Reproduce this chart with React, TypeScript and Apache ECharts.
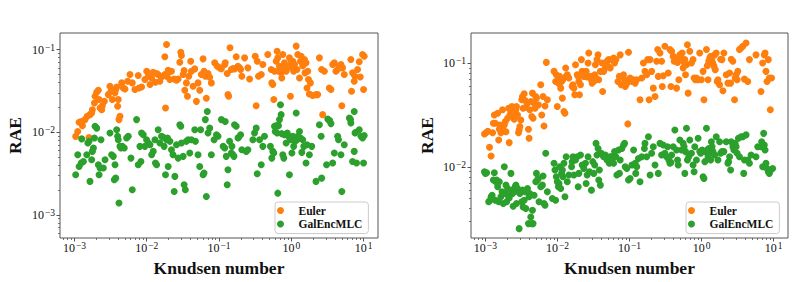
import React, { useEffect, useRef } from "react";
import * as echarts from "echarts";

// ---------- data ----------
const leftEulerKn = [
  0.00104, 0.00111, 0.00116, 0.00124, 0.00129, 0.0014, 0.0015, 0.00159, 0.00164, 0.00173,
  0.00177, 0.00189, 0.00193, 0.00203, 0.00214, 0.00219, 0.00226, 0.00238, 0.00243, 0.00259,
  0.00294, 0.0031, 0.0032, 0.00334, 0.00364, 0.00372, 0.00384, 0.00404, 0.00396, 0.00413,
  0.00426, 0.0045, 0.00474, 0.005, 0.00544, 0.00586, 0.00631, 0.00687, 0.00763, 0.0078,
  0.00849, 0.00943, 0.01, 0.0105, 0.0111, 0.0117, 0.0123, 0.0132, 0.0137, 0.0144,
  0.0152, 0.016, 0.0178, 0.0188, 0.0198, 0.0178, 0.0182, 0.0188, 0.0198, 0.0209,
  0.022, 0.024, 0.0258, 0.0272, 0.0287, 0.0296, 0.0302, 0.0319, 0.0329, 0.0336,
  0.0354, 0.0366, 0.0382, 0.0406, 0.0415, 0.0438, 0.0462, 0.0487, 0.0513, 0.0541,
  0.057, 0.0602, 0.0621, 0.0634, 0.0647, 0.0668, 0.0705, 0.0743, 0.0784, 0.0872,
  0.0948, 0.102, 0.108, 0.12, 0.122, 0.13, 0.133, 0.136, 0.142, 0.148,
  0.156, 0.164, 0.173, 0.183, 0.193, 0.199, 0.207, 0.226, 0.251, 0.265,
  0.317, 0.327, 0.338, 0.352, 0.384, 0.404, 0.474, 0.527, 0.538, 0.555,
  0.573, 0.586, 0.618, 0.637, 0.651, 0.665, 0.687, 0.724, 0.739, 0.763,
  0.788, 0.805, 0.849, 0.913, 0.943, 0.974, 1.0, 1.02, 1.05, 1.08,
  1.11, 1.17, 1.2, 1.23, 1.3, 1.34, 1.37, 1.44, 1.52, 1.55,
  1.6, 1.69, 1.65, 1.73, 1.84, 1.78, 1.98, 2.2, 2.32, 2.45,
  2.63, 2.72, 2.87, 3.36, 3.54, 3.74, 3.94, 4.15, 4.38, 4.62,
  4.87, 5.13, 5.0, 5.41, 6.68, 6.82, 7.05, 7.43, 7.62, 8.26,
  8.72, 9.0, 9.69, 10.0, 10.2,
];
const leftEulerRae = [
  0.0089, 0.0102, 0.0132, 0.0135, 0.012, 0.0142, 0.0156, 0.0086, 0.0163, 0.0171,
  0.0187, 0.0226, 0.0272, 0.0304, 0.0321, 0.0248, 0.0196, 0.0187, 0.0209, 0.0236,
  0.0285, 0.0359, 0.0313, 0.0248, 0.0299, 0.0328, 0.0353, 0.0248, 0.0206, 0.0142,
  0.0156, 0.0395, 0.0343, 0.0333, 0.0413, 0.0498, 0.0395, 0.0328, 0.0484, 0.0343,
  0.0353, 0.0433, 0.0547, 0.0475, 0.0377, 0.0453, 0.0531, 0.0402, 0.0512, 0.0498,
  0.0413, 0.0466, 0.0498, 0.0475, 0.0522, 0.0816, 0.0196, 0.115, 0.0562, 0.0433,
  0.0547, 0.0441, 0.0425, 0.0441, 0.0703, 0.0929, 0.0846, 0.0498, 0.0557, 0.0321,
  0.0395, 0.0272, 0.0475, 0.0723, 0.0547, 0.0359, 0.0583, 0.0236, 0.0395, 0.0321,
  0.0498, 0.0771, 0.0547, 0.0522, 0.0475, 0.0257, 0.0512, 0.0462, 0.0395, 0.069,
  0.0628, 0.06, 0.0586, 0.0658, 0.069, 0.0512, 0.0285, 0.0272, 0.105, 0.0572,
  0.059, 0.0583, 0.0816, 0.0628, 0.06, 0.0572, 0.0475, 0.0793, 0.06, 0.0441,
  0.083, 0.0209, 0.0723, 0.0475, 0.0498, 0.0658, 0.087, 0.0572, 0.0395, 0.0377,
  0.0248, 0.0547, 0.0723, 0.0955, 0.0793, 0.0547, 0.0628, 0.0522, 0.0453, 0.087,
  0.06, 0.069, 0.0547, 0.0628, 0.0793, 0.0272, 0.0723, 0.06, 0.0723, 0.0547,
  0.0658, 0.11, 0.0572, 0.087, 0.0453, 0.0723, 0.083, 0.0637, 0.0757, 0.0522,
  0.069, 0.0547, 0.0343, 0.0433, 0.0395, 0.029, 0.0278, 0.0285, 0.0285, 0.0793,
  0.0572, 0.0163, 0.0547, 0.0343, 0.0328, 0.0658, 0.069, 0.0547, 0.0572, 0.0628,
  0.0658, 0.06, 0.0209, 0.0498, 0.0757, 0.0313, 0.0522, 0.0413, 0.0475, 0.0572,
  0.071, 0.0466, 0.087, 0.0328, 0.083,
];

const leftGalKn = [
  0.00104, 0.00111, 0.00116, 0.00124, 0.00126, 0.00133, 0.00148, 0.00153, 0.00159, 0.00164,
  0.00173, 0.00177, 0.00183, 0.00189, 0.00193, 0.00203, 0.00214, 0.00219, 0.00226, 0.00233,
  0.00251, 0.00265, 0.0031, 0.00327, 0.00345, 0.00356, 0.00364, 0.00372, 0.00384, 0.00396,
  0.00404, 0.00413, 0.00426, 0.0044, 0.00459, 0.00489, 0.00527, 0.00555, 0.00605, 0.00631,
  0.00724, 0.00763, 0.00805, 0.00831, 0.00849, 0.00896, 0.00943, 0.00995, 0.0105, 0.0111,
  0.0117, 0.0123, 0.013, 0.0132, 0.0137, 0.0144, 0.0152, 0.016, 0.0169, 0.0174,
  0.0182, 0.0188, 0.0194, 0.0198, 0.0209, 0.022, 0.0231, 0.024, 0.0245, 0.0258,
  0.0272, 0.0287, 0.0296, 0.0302, 0.0319, 0.0329, 0.0342, 0.0354, 0.0374, 0.0394,
  0.0415, 0.0462, 0.0472, 0.0513, 0.0541, 0.0557, 0.0602, 0.0621, 0.0647, 0.0668,
  0.0689, 0.0705, 0.0743, 0.0784, 0.0855, 0.0924, 0.0969, 0.108, 0.114, 0.12,
  0.122, 0.126, 0.13, 0.133, 0.14, 0.148, 0.151, 0.156, 0.161, 0.164,
  0.173, 0.183, 0.187, 0.199, 0.207, 0.238, 0.251, 0.294, 0.31, 0.327,
  0.338, 0.364, 0.384, 0.404, 0.426, 0.514, 0.538, 0.555, 0.573, 0.586,
  0.6, 0.624, 0.637, 0.651, 0.665, 0.687, 0.709, 0.724, 0.739, 0.763,
  0.788, 0.805, 0.849, 0.881, 0.913, 0.943, 0.974, 1.02, 1.05, 1.08,
  1.13, 1.17, 1.2, 1.23, 1.3, 1.34, 1.4, 1.44, 1.49, 1.6,
  1.65, 1.78, 1.92, 2.2, 2.45, 2.59, 2.63, 3.08, 3.2, 3.4,
  3.54, 3.74, 3.94, 4.38, 4.5, 4.87, 5.0, 5.41, 6.37, 6.6,
  6.68, 7.05, 7.43, 7.62, 7.8, 7.43, 8.0, 8.72, 9.23, 9.69, 10.2, 10.0,
];
const leftGalRae = [
  0.00306, 0.00534, 0.00385, 0.00423, 0.0083, 0.00443, 0.00534, 0.0074, 0.00775, 0.00254,
  0.00464, 0.00586, 0.00643, 0.0085, 0.0118, 0.0112, 0.00404, 0.00306, 0.00368, 0.00812,
  0.00368, 0.00464, 0.00977, 0.00534, 0.0051, 0.00266, 0.00404, 0.00278, 0.0107, 0.00891,
  0.00812, 0.00139, 0.00674, 0.00643, 0.00674, 0.00643, 0.0085, 0.00891, 0.00486, 0.00201,
  0.0142, 0.00404, 0.00674, 0.00443, 0.00977, 0.00933, 0.00674, 0.00812, 0.0074, 0.00706,
  0.00534, 0.00586, 0.00812, 0.00423, 0.00404, 0.0107, 0.0074, 0.00891, 0.0087, 0.00674,
  0.00306, 0.00812, 0.0085, 0.00385, 0.00775, 0.00614, 0.00534, 0.00192, 0.00292, 0.00706,
  0.00486, 0.0123, 0.0118, 0.0074, 0.0051, 0.00231, 0.00201, 0.00775, 0.00812, 0.00559,
  0.00812, 0.0107, 0.00775, 0.00534, 0.00385, 0.0107, 0.00306, 0.0032, 0.0142, 0.00167,
  0.0178, 0.00977, 0.0112, 0.00534, 0.00812, 0.00933, 0.00891, 0.0142, 0.00674, 0.00643,
  0.0135, 0.0051, 0.00231, 0.00351, 0.00775, 0.00559, 0.00674, 0.00534, 0.0051, 0.0123,
  0.0118, 0.0085, 0.0087, 0.00933, 0.00614, 0.00586, 0.00614, 0.00812, 0.00977, 0.0112,
  0.00315, 0.00812, 0.00404, 0.00674, 0.00891, 0.00674, 0.00486, 0.00586, 0.00559, 0.0118,
  0.0102, 0.012, 0.00977, 0.00183, 0.012, 0.0142, 0.0215, 0.0163, 0.0096, 0.00534,
  0.00486, 0.00933, 0.0074, 0.00977, 0.00891, 0.00306, 0.00812, 0.00559, 0.00891, 0.00674,
  0.00775, 0.0171, 0.00812, 0.00891, 0.0102, 0.0085, 0.0057, 0.00812, 0.00674, 0.00423,
  0.00706, 0.00534, 0.00674, 0.00254, 0.0123, 0.00891, 0.00278, 0.00404, 0.0144, 0.0138,
  0.0127, 0.00423, 0.00559, 0.00891, 0.00812, 0.00534, 0.00192, 0.00706, 0.0148, 0.0142,
  0.0129, 0.00443, 0.00586, 0.00977, 0.01, 0.0178, 0.00423, 0.0107, 0.00891, 0.0085, 0.0091, 0.00423,
];

const rightEulerKn = [
  0.00097, 0.00102, 0.00108, 0.00114, 0.0012, 0.00126, 0.00129, 0.00133, 0.00137, 0.00148,
  0.00153, 0.00156, 0.00159, 0.00164, 0.00173, 0.00177, 0.00183, 0.00189, 0.00193, 0.00203,
  0.0021, 0.00214, 0.00219, 0.00226, 0.00233, 0.00238, 0.00243, 0.00251, 0.00259, 0.00265,
  0.0027, 0.00279, 0.00288, 0.00294, 0.00301, 0.0031, 0.0032, 0.00327, 0.00334, 0.00345,
  0.00356, 0.00364, 0.00384, 0.00396, 0.00404, 0.00413, 0.00426, 0.0044, 0.0045, 0.00459,
  0.00474, 0.00489, 0.005, 0.00511, 0.00544, 0.00586, 0.00605, 0.00631, 0.00651, 0.00672,
  0.00701, 0.00724, 0.00896, 0.00943, 0.00964, 0.00995, 0.0103, 0.0105, 0.0107, 0.0111,
  0.0114, 0.0117, 0.0119, 0.0123, 0.0127, 0.013, 0.0132, 0.0137, 0.0144, 0.016,
  0.0164, 0.0169, 0.0174, 0.0178, 0.0188, 0.0194, 0.0198, 0.0202, 0.0209, 0.0215,
  0.022, 0.0232, 0.0245, 0.025, 0.0258, 0.0266, 0.0272, 0.0287, 0.0296, 0.0302,
  0.0319, 0.0329, 0.0336, 0.0343, 0.0354, 0.0366, 0.0374, 0.0394, 0.0415, 0.0424,
  0.0438, 0.0462, 0.0487, 0.0503, 0.0513, 0.0541, 0.057, 0.0602, 0.0621, 0.0647,
  0.0691, 0.0724, 0.0743, 0.0767, 0.0826, 0.0854, 0.0872, 0.0893, 0.0918, 0.0948,
  0.0969, 0.102, 0.108, 0.114, 0.12, 0.126, 0.14, 0.148, 0.156, 0.164,
  0.173, 0.179, 0.187, 0.193, 0.203, 0.214, 0.226, 0.238, 0.246, 0.251,
  0.265, 0.279, 0.285, 0.294, 0.31, 0.345, 0.364, 0.376, 0.384, 0.404,
  0.417, 0.45, 0.464, 0.474, 0.484, 0.5, 0.516, 0.538, 0.555, 0.573,
  0.586, 0.599, 0.618, 0.637, 0.651, 0.687, 0.724, 0.763, 0.788, 0.822,
  0.849, 0.896, 0.943, 0.995, 1.05, 1.08, 1.17, 1.2, 1.23, 1.26,
  1.3, 1.34, 1.37, 1.4, 1.44, 1.49, 1.52, 1.55, 1.6, 1.65,
  1.69, 1.78, 1.84, 1.92, 2.04, 1.98, 2.2, 2.32, 2.45, 2.53,
  2.58, 2.72, 2.87, 2.93, 3.02, 3.12, 3.19, 3.36, 3.54, 3.74,
  3.94, 4.15, 4.38, 4.62, 5.7, 6.68, 7.05, 7.43, 7.62, 7.84,
  8.1, 8.46, 8.72, 9.0, 9.38,
];
const rightEulerRae = [
  0.0207, 0.0213, 0.022, 0.0154, 0.0127, 0.0213, 0.0263, 0.0316, 0.0263, 0.0328,
  0.0181, 0.023, 0.0253, 0.0213, 0.0354, 0.0223, 0.0253, 0.0273, 0.0218, 0.0294,
  0.0367, 0.0171, 0.0316, 0.0333, 0.0381, 0.0341, 0.0305, 0.0287, 0.03, 0.0354,
  0.0381, 0.0316, 0.0213, 0.0226, 0.0244, 0.0283, 0.0442, 0.0476, 0.0367, 0.0505,
  0.0435, 0.0375, 0.041, 0.023, 0.0188, 0.0354, 0.0426, 0.0305, 0.0513, 0.0294,
  0.041, 0.0367, 0.0476, 0.0459, 0.0395, 0.0617, 0.0316, 0.0476, 0.0247, 0.0386,
  0.1015, 0.0442, 0.0832, 0.0665, 0.0771, 0.0381, 0.0641, 0.069, 0.0744, 0.0573,
  0.0665, 0.0459, 0.069, 0.0341, 0.0328, 0.0895, 0.0744, 0.0771, 0.0717, 0.0595,
  0.0617, 0.0573, 0.0494, 0.0964, 0.0771, 0.0744, 0.0665, 0.0494, 0.0617, 0.108,
  0.0832, 0.0744, 0.0801, 0.0832, 0.0733, 0.1, 0.125, 0.0744, 0.069, 0.0641,
  0.0665, 0.0771, 0.0964, 0.0717, 0.108, 0.12, 0.069, 0.0832, 0.1, 0.0532,
  0.0832, 0.0895, 0.104, 0.0929, 0.108, 0.0895, 0.108, 0.112, 0.1, 0.108,
  0.0665, 0.0744, 0.12, 0.0617, 0.0771, 0.069, 0.0595, 0.0617, 0.0641, 0.0259,
  0.127, 0.0717, 0.0665, 0.069, 0.0641, 0.069, 0.0442, 0.0717, 0.1, 0.0832,
  0.0771, 0.108, 0.0442, 0.108, 0.0832, 0.0573, 0.0476, 0.104, 0.135, 0.0744,
  0.125, 0.104, 0.0595, 0.0754, 0.145, 0.0801, 0.135, 0.0595, 0.13, 0.116,
  0.104, 0.0573, 0.1015, 0.112, 0.069, 0.12, 0.112, 0.125, 0.0895, 0.1015,
  0.108, 0.0771, 0.0964, 0.15, 0.0513, 0.13, 0.1, 0.108, 0.0717, 0.069,
  0.0717, 0.069, 0.125, 0.069, 0.0832, 0.0442, 0.135, 0.0942, 0.069, 0.104,
  0.112, 0.116, 0.109, 0.104, 0.0986, 0.0929, 0.12, 0.0863, 0.125, 0.0665,
  0.069, 0.0617, 0.109, 0.108, 0.125, 0.054, 0.0771, 0.0641, 0.0801, 0.0641,
  0.109, 0.104, 0.0442, 0.0717, 0.0771, 0.069, 0.0832, 0.135, 0.14, 0.145,
  0.07, 0.156, 0.0665, 0.108, 0.12, 0.0532, 0.1, 0.12, 0.125, 0.0832,
  0.0665, 0.108, 0.0717, 0.0354, 0.0717,
];

const rightGalKn = [
  0.00097, 0.001, 0.00104, 0.00111, 0.00116, 0.0012, 0.00124, 0.00129, 0.00133, 0.00137,
  0.0014, 0.00143, 0.00148, 0.00153, 0.00156, 0.00164, 0.0017, 0.00177, 0.00183, 0.00189,
  0.00193, 0.00197, 0.00203, 0.0021, 0.00214, 0.00219, 0.00226, 0.00233, 0.00238, 0.00243,
  0.00251, 0.00259, 0.00265, 0.0027, 0.00279, 0.00288, 0.00294, 0.00301, 0.0031, 0.0032,
  0.00327, 0.00334, 0.00345, 0.00356, 0.00364, 0.00384, 0.00396, 0.00404, 0.00413, 0.00426,
  0.0044, 0.0045, 0.00459, 0.00474, 0.005, 0.00511, 0.00527, 0.00544, 0.00555, 0.00586,
  0.00618, 0.00631, 0.00651, 0.00672, 0.00687, 0.00724, 0.00849, 0.00896, 0.00923, 0.00943,
  0.00964, 0.00995, 0.0103, 0.0105, 0.0107, 0.0111, 0.0114, 0.0117, 0.0119, 0.0123,
  0.0127, 0.0132, 0.0137, 0.0144, 0.0157, 0.016, 0.0164, 0.0169, 0.0178, 0.0188,
  0.0194, 0.0198, 0.0209, 0.022, 0.0232, 0.0245, 0.025, 0.0258, 0.0266, 0.0278,
  0.0296, 0.0309, 0.0319, 0.0329, 0.0343, 0.0354, 0.0366, 0.0374, 0.0382, 0.0394,
  0.0406, 0.0424, 0.0438, 0.0462, 0.0487, 0.0503, 0.0524, 0.0541, 0.0559, 0.057,
  0.0602, 0.0621, 0.0647, 0.0668, 0.0705, 0.0724, 0.0743, 0.0784, 0.0826, 0.0854,
  0.0872, 0.0918, 0.0969, 0.102, 0.108, 0.114, 0.12, 0.122, 0.126, 0.133,
  0.14, 0.148, 0.161, 0.164, 0.173, 0.183, 0.193, 0.203, 0.214, 0.226,
  0.251, 0.265, 0.279, 0.294, 0.31, 0.327, 0.338, 0.352, 0.364, 0.376,
  0.384, 0.404, 0.426, 0.45, 0.464, 0.474, 0.5, 0.527, 0.555, 0.573,
  0.586, 0.599, 0.618, 0.637, 0.665, 0.687, 0.724, 0.763, 0.788, 0.805,
  0.849, 0.896, 0.943, 0.974, 1.02, 1.05, 1.08, 1.11, 1.13, 1.17,
  1.2, 1.23, 1.26, 1.3, 1.34, 1.37, 1.4, 1.44, 1.52, 1.6,
  1.69, 1.78, 1.84, 1.92, 2.04, 2.2, 2.32, 2.37, 2.45, 2.53,
  2.58, 2.72, 2.81, 2.93, 3.02, 3.12, 3.25, 3.36, 3.54, 3.74,
  3.85, 3.94, 4.15, 4.38, 4.62, 4.87, 5.7, 6.02, 6.68, 6.82,
  7.05, 7.28, 7.43, 7.62, 7.84, 8.1, 8.46, 8.72, 9.18, 9.69,
];
const rightGalRae = [
  0.00895, 0.00863, 0.00875, 0.00459, 0.00476, 0.00513, 0.00532, 0.00744, 0.00875, 0.00476,
  0.00717, 0.00744, 0.00641, 0.00459, 0.00717, 0.00513, 0.00573, 0.00442, 0.01, 0.00552,
  0.00665, 0.00459, 0.00617, 0.00513, 0.005, 0.00532, 0.00863, 0.00595, 0.00552, 0.00416,
  0.00573, 0.00641, 0.00665, 0.00442, 0.00617, 0.00573, 0.00253, 0.00552, 0.00573, 0.00459,
  0.00595, 0.0041, 0.00476, 0.00573, 0.00395, 0.00617, 0.00283, 0.00513, 0.00552, 0.00328,
  0.00283, 0.00381, 0.00283, 0.00532, 0.00717, 0.00863, 0.00744, 0.00771, 0.00459, 0.00641,
  0.00665, 0.00813, 0.00442, 0.00426, 0.0135, 0.00573, 0.00494, 0.0108, 0.00929, 0.00476,
  0.00801, 0.00717, 0.00641, 0.0069, 0.01, 0.00617, 0.00863, 0.00929, 0.00801, 0.0108,
  0.00513, 0.0125, 0.00717, 0.00832, 0.01, 0.0112, 0.0125, 0.00832, 0.0116, 0.0125,
  0.00641, 0.00863, 0.013, 0.0104, 0.00964, 0.0108, 0.0069, 0.00832, 0.0125, 0.00895,
  0.00595, 0.0112, 0.00863, 0.0104, 0.0168, 0.013, 0.015, 0.00744, 0.00929, 0.00665,
  0.0135, 0.013, 0.0125, 0.013, 0.0116, 0.012, 0.0108, 0.0125, 0.0125, 0.0116,
  0.0108, 0.014, 0.0125, 0.00832, 0.0145, 0.00863, 0.0116, 0.015, 0.0162, 0.0168,
  0.01, 0.00964, 0.00744, 0.00771, 0.0104, 0.0145, 0.0108, 0.00863, 0.01, 0.012,
  0.00717, 0.0125, 0.015, 0.0168, 0.0125, 0.0195, 0.00832, 0.0135, 0.0156, 0.0104,
  0.00863, 0.0168, 0.013, 0.0162, 0.0135, 0.0125, 0.0156, 0.0116, 0.0108, 0.011,
  0.013, 0.0156, 0.0226, 0.0145, 0.0116, 0.0104, 0.0181, 0.0145, 0.0168, 0.0156,
  0.00863, 0.014, 0.0235, 0.0116, 0.0125, 0.0181, 0.0135, 0.0104, 0.00895, 0.0156,
  0.0116, 0.0188, 0.014, 0.0135, 0.0145, 0.00801, 0.00771, 0.0112, 0.014, 0.0235,
  0.0145, 0.0125, 0.015, 0.0135, 0.0116, 0.0174, 0.0156, 0.014, 0.013, 0.0195,
  0.0116, 0.0174, 0.0135, 0.014, 0.014, 0.0174, 0.0108, 0.0112, 0.0125, 0.00929,
  0.0174, 0.0156, 0.0145, 0.0168, 0.0156, 0.0135, 0.0188, 0.0125, 0.0195, 0.0195,
  0.00863, 0.0116, 0.0203, 0.0116, 0.0108, 0.013, 0.0125, 0.0156, 0.0156, 0.0174,
  0.01, 0.021, 0.0162, 0.0145, 0.0108, 0.00964, 0.00895, 0.00863, 0.00929, 0.00964,
];

const seriesNames = ["Euler", "GalEncMLC"];
const xTitle = "Knudsen number";
const yTitle = "RAE";

// axis limits (log decades) and major ticks
const xLimits = [Math.pow(10, -3.2), Math.pow(10, 1.2)];
const leftYLimits = [Math.pow(10, -3.28), Math.pow(10, -0.8)];
const rightYLimits = [Math.pow(10, -2.687), Math.pow(10, -0.71)];
const xMajor = [1e-3, 1e-2, 1e-1, 1, 10];
const leftYMajor = [1e-3, 1e-2, 1e-1];
const rightYMajor = [1e-2, 1e-1];

// ---------- styling ----------
const ORANGE = "#ff7f0e";
const GREEN = "#2ca02c";
const FRAME = "#555555";
const FONT = "'Liberation Serif', 'Times New Roman', serif";

const minorTicks = (lo: number, hi: number) => {
  const out: number[] = [];
  for (let e = -5; e <= 2; e++) {
    for (let m = 2; m <= 9; m++) {
      const v = m * Math.pow(10, e);
      if (v > lo && v < hi) out.push(v);
    }
  }
  return out;
};

const supLabel = (v: number) => {
  const e = Math.round(Math.log10(v));
  const s = e < 0 ? "\u2212" + -e : String(e);
  return `{b|10}{s|${s}}`;
};

const rich = {
  b: { fontFamily: FONT, fontSize: 12, color: "#111", lineHeight: 14 },
  s: { fontFamily: FONT, fontSize: 9.5, color: "#111", lineHeight: 9, verticalAlign: "top", padding: [0, 0, 0, 1] },
};

const pairs = (xs: number[], ys: number[]) => xs.map((x, i) => [x, ys[i]]);

function majorAxis(kind: "x" | "y", grid: number, lim: number[], major: number[], nameGap: number) {
  return {
    type: "log",
    logBase: 10,
    gridIndex: grid,
    min: lim[0],
    max: lim[1],
    position: kind === "x" ? "bottom" : "left",
    name: kind === "x" ? xTitle : yTitle,
    nameLocation: "middle",
    nameGap,
    nameTextStyle: { fontFamily: FONT, fontSize: 17.5, fontWeight: "bold", color: "#111" },
    axisLine: { show: false },
    splitLine: { show: false },
    minorTick: { show: false },
    axisTick: {
      show: true,
      inside: false,
      length: 3.5,
      customValues: major,
      lineStyle: { color: FRAME, width: 1 },
    },
    axisLabel: {
      show: true,
      customValues: major,
      margin: kind === "x" ? 3 : 5,
      formatter: supLabel,
      rich,
      fontFamily: FONT,
    },
    silent: true,
  };
}

function minorAxis(kind: "x" | "y", grid: number, lim: number[]) {
  return {
    type: "log",
    logBase: 10,
    gridIndex: grid,
    min: lim[0],
    max: lim[1],
    position: kind === "x" ? "bottom" : "left",
    axisLine: { show: false },
    splitLine: { show: false },
    axisLabel: { show: false },
    axisTick: {
      show: true,
      inside: false,
      length: 2,
      customValues: minorTicks(lim[0], lim[1]),
      lineStyle: { color: FRAME, width: 0.8 },
    },
    silent: true,
  };
}

function legendAt(left: number, top: number) {
  return {
    show: true,
    data: seriesNames,
    left,
    top,
    orient: "vertical",
    icon: "circle",
    itemWidth: 22,
    itemHeight: 7,
    itemGap: 0.5,
    symbolKeepAspect: true,
    selectedMode: false,
    padding: [2, 6, 3, 2],
    backgroundColor: "rgba(255,255,255,0.8)",
    borderColor: "#cccccc",
    borderWidth: 1,
    borderRadius: 3,
    textStyle: {
      fontFamily: FONT,
      fontSize: 11.5,
      fontWeight: "bold",
      color: "#111",
      lineHeight: 13,
      padding: [0, 0, 0, 2],
    },
  };
}

function scatter(name: string, grid: number, data: number[][], color: string) {
  return {
    type: "scatter",
    name,
    xAxisIndex: grid,
    yAxisIndex: grid,
    data,
    symbol: "circle",
    symbolSize: 7,
    itemStyle: { color, opacity: 1 },
    emphasis: { disabled: true },
  };
}

export default function App() {
  const ref = useRef<HTMLDivElement>(null);

  useEffect(() => {
    if (!ref.current) return;
    document.body.style.margin = "0";
    const chart = echarts.init(ref.current, undefined, { renderer: "svg" });
    const gridBase = {
      show: true,
      borderColor: FRAME,
      borderWidth: 1,
      backgroundColor: "transparent",
      containLabel: false,
      outerBoundsMode: "none",
    };
    const option: any = {
      animation: false,
      backgroundColor: "#ffffff",
      textStyle: { fontFamily: FONT },
      grid: [
        { ...gridBase, left: 60, top: 33, width: 318, height: 205 },
        { ...gridBase, left: 471, top: 33, width: 317, height: 205 },
      ],
      xAxis: [
        majorAxis("x", 0, xLimits, xMajor, 16),
        majorAxis("x", 1, xLimits, xMajor, 16),
        minorAxis("x", 0, xLimits),
        minorAxis("x", 1, xLimits),
      ],
      yAxis: [
        majorAxis("y", 0, leftYLimits, leftYMajor, 36),
        majorAxis("y", 1, rightYLimits, rightYMajor, 35),
        minorAxis("y", 0, leftYLimits),
        minorAxis("y", 1, rightYLimits),
      ],
      legend: [legendAt(275, 202), legendAt(686, 202)],
      tooltip: { show: false },
      series: [
        scatter(seriesNames[0], 0, pairs(leftEulerKn, leftEulerRae), ORANGE),
        scatter(seriesNames[1], 0, pairs(leftGalKn, leftGalRae), GREEN),
        scatter(seriesNames[0], 1, pairs(rightEulerKn, rightEulerRae), ORANGE),
        scatter(seriesNames[1], 1, pairs(rightGalKn, rightGalRae), GREEN),
      ],
    };
    chart.setOption(option);
    return () => chart.dispose();
  }, []);

  return (
    <div style={{ position: "fixed", left: 0, top: 0, width: 798, height: 282 }}>
      <div ref={ref} style={{ width: 798, height: 282, background: "#fff" }} />
    </div>
  );
}
